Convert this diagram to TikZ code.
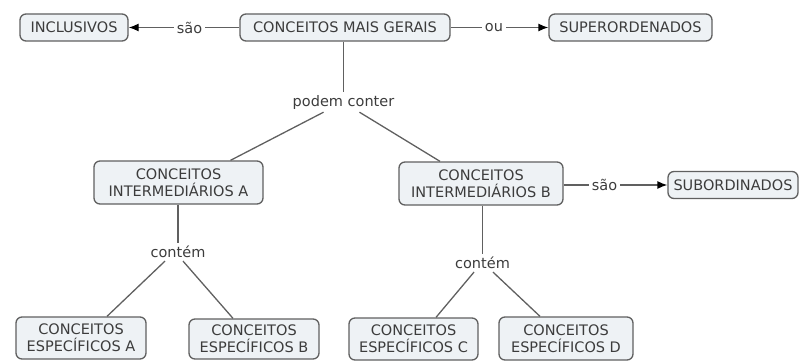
\documentclass[tikz,border=0pt]{standalone}
\usepackage{fontspec}
\setmainfont{DejaVu Sans}
\usetikzlibrary{arrows.meta}
\definecolor{caixafundo}{HTML}{EEF2F5}
\definecolor{caixalinha}{HTML}{606060}
\definecolor{texto}{HTML}{3C3C3C}
\begin{document}
\begin{tikzpicture}[x=1pt,y=-1pt,
                conceito/.style={draw=caixalinha, fill=caixafundo, rounded corners=6pt, line width=1.3pt,
                    text=texto, font=\fontsize{14.5}{17}\selectfont, align=center, inner sep=0pt, minimum height=27pt},
                rotulo/.style={text=texto, font=\fontsize{14.5}{17}\selectfont, inner sep=3pt},
                liga/.style={draw=caixalinha, line width=1.3pt},
                seta/.style={liga, -{Latex[length=10pt,width=8pt,color=black]}}]
                \useasboundingbox (0,0) rectangle (800,361);
                \node[conceito, minimum width=108pt] (incl) at (74,27.5) {INCLUSIVOS};
                \node[conceito, minimum width=210pt] (geral) at (345,27.5) {CONCEITOS MAIS GERAIS};
                \node[conceito, minimum width=163pt] (super) at (630.5,27.5) {SUPERORDENADOS};
                \node[rotulo] (sao1) at (189.5,27.5) {são};
                \node[rotulo] (ou) at (494,27.5) {ou};
                \node[rotulo] (podem) at (343.5,102) {podem conter};
                \node[conceito, minimum width=169pt, minimum height=43pt] (intA) at (178.5,182.5) {CONCEITOS\\INTERMEDIÁRIOS A};
                \node[conceito, minimum width=164pt, minimum height=43pt] (intB) at (481,183.5) {CONCEITOS\\INTERMEDIÁRIOS B};
                \node[rotulo] (sao2) at (604.5,185) {são};
                \node[conceito, minimum width=130pt] (sub) at (733,185) {SUBORDINADOS};
                \node[rotulo] (contA) at (178,252) {contém};
                \node[rotulo] (contB) at (482.5,263) {contém};
                \node[conceito, minimum width=130pt, minimum height=42pt] (espA) at (81,338) {CONCEITOS\\ESPECÍFICOS A};
                \node[conceito, minimum width=130pt, minimum height=40pt] (espB) at (254,339) {CONCEITOS\\ESPECÍFICOS B};
                \node[conceito, minimum width=129pt, minimum height=42pt] (espC) at (413.5,339) {CONCEITOS\\ESPECÍFICOS C};
                \node[conceito, minimum width=134pt, minimum height=43pt] (espD) at (566,338.5) {CONCEITOS\\ESPECÍFICOS D};
                \draw[liga] (geral) -- (sao1);
                \draw[seta] (sao1) -- (incl);
                \draw[liga] (geral) -- (ou);
                \draw[seta] (ou) -- (super);
                \draw[liga] (geral.south -| podem) -- (podem);
                \draw[liga] ([xshift=-20pt]podem.south) -- ([xshift=52pt]intA.north);
                \draw[liga] ([xshift=16pt]podem.south) -- ([xshift=-41pt]intB.north);
                \draw[liga] (intB.east |- sao2) -- (sao2);
                \draw[seta] (sao2) -- (sub);
                \draw[liga] (intA.south -| contA) -- (contA);
                \draw[liga] ([xshift=-13pt]contA.south) -- ([xshift=26pt]espA.north);
                \draw[liga] ([xshift=5pt]contA.south) -- ([xshift=-21pt]espB.north);
                \draw[liga] (intB.south -| contB) -- (contB);
                \draw[liga] ([xshift=-8.5pt]contB.south) -- ([xshift=22.5pt]espC.north);
                \draw[liga] ([xshift=10.5pt]contB.south) -- ([xshift=-26pt]espD.north);
            \end{tikzpicture}
\end{document}
